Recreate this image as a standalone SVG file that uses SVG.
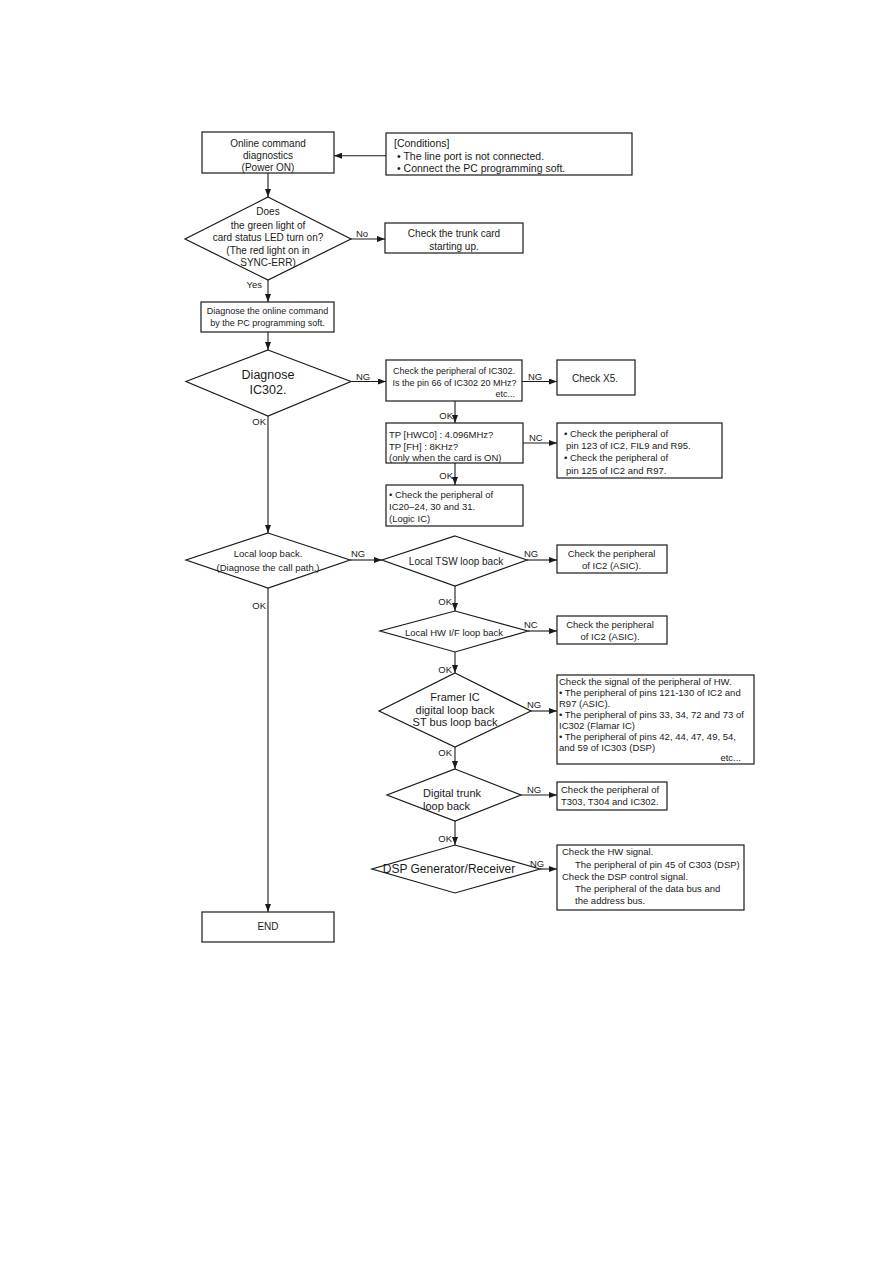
<svg xmlns="http://www.w3.org/2000/svg" width="893" height="1263" viewBox="0 0 893 1263">
<defs>
<style>
.n{fill:#fff;stroke:#1a1a1a;stroke-width:1.2}
.c{fill:none;stroke:#1a1a1a;stroke-width:1.1}
text{font-family:"Liberation Sans",Arial,sans-serif;fill:#1a1a1a;dominant-baseline:central}
.m{text-anchor:middle}
.e{text-anchor:end}
.f9{font-size:9px}
.f95{font-size:9.5px}
.f10{font-size:10px}
.f105{font-size:10.5px}
.f11{font-size:11px}
.f12{font-size:12px}
.f125{font-size:12.5px}
</style>
<marker id="ah" viewBox="0 0 8 6" refX="8" refY="3" markerWidth="8" markerHeight="6" orient="auto" markerUnits="userSpaceOnUse"><path d="M0,0 L8,3 L0,6 z" fill="#1a1a1a"/></marker>
</defs>
<rect width="893" height="1263" fill="#fff"/>

<g id="connectors">
<path class="c" d="M386,155.7 H334" marker-end="url(#ah)"/>
<path class="c" d="M268,173 V197" marker-end="url(#ah)"/>
<path class="c" d="M351,239 H385" marker-end="url(#ah)"/>
<path class="c" d="M268,280 V302" marker-end="url(#ah)"/>
<path class="c" d="M268,332 V350" marker-end="url(#ah)"/>
<path class="c" d="M351,381.5 H386" marker-end="url(#ah)"/>
<path class="c" d="M522,381.5 H557" marker-end="url(#ah)"/>
<path class="c" d="M455,401 V423" marker-end="url(#ah)"/>
<path class="c" d="M523,443 H557" marker-end="url(#ah)"/>
<path class="c" d="M455,463 V485" marker-end="url(#ah)"/>
<path class="c" d="M268,416 V533" marker-end="url(#ah)"/>
<path class="c" d="M350,560 H382" marker-end="url(#ah)"/>
<path class="c" d="M527,560 H557" marker-end="url(#ah)"/>
<path class="c" d="M455,586 V611" marker-end="url(#ah)"/>
<path class="c" d="M528,631 H557" marker-end="url(#ah)"/>
<path class="c" d="M455,652 V673" marker-end="url(#ah)"/>
<path class="c" d="M531,711 H557" marker-end="url(#ah)"/>
<path class="c" d="M455,747 V769" marker-end="url(#ah)"/>
<path class="c" d="M521,795 H557" marker-end="url(#ah)"/>
<path class="c" d="M455,821 V845" marker-end="url(#ah)"/>
<path class="c" d="M540,869 H557" marker-end="url(#ah)"/>
<path class="c" d="M268,588 V912" marker-end="url(#ah)"/>
<text class="f95" x="356" y="233">No</text>
<text class="f95 e" x="262" y="284">Yes</text>
<text class="f95" x="356" y="376.7">NG</text>
<text class="f95" x="528" y="376.7">NG</text>
<text class="f95 e" x="453" y="415">OK</text>
<text class="f95 e" x="266" y="421">OK</text>
<text class="f95" x="529" y="437">NC</text>
<text class="f95 e" x="453" y="475">OK</text>
<text class="f95" x="351" y="553.6">NG</text>
<text class="f95" x="524" y="553">NG</text>
<text class="f95 e" x="452" y="601.6">OK</text>
<text class="f95 e" x="266" y="605.6">OK</text>
<text class="f95" x="524" y="624">NC</text>
<text class="f95 e" x="452" y="669">OK</text>
<text class="f95" x="527" y="704">NG</text>
<text class="f95 e" x="452" y="752">OK</text>
<text class="f95" x="527" y="789">NG</text>
<text class="f95 e" x="452" y="838">OK</text>
<text class="f95" x="530" y="863">NG</text>
</g>

<g id="start">
<rect class="n" x="202" y="132" width="132" height="41"/>
<text class="f10 m" x="268" y="143">Online command</text>
<text class="f10 m" x="268" y="155">diagnostics</text>
<text class="f10 m" x="268" y="167.5">(Power ON)</text>
</g>

<g id="conditions">
<rect class="n" x="386" y="133" width="246" height="42"/>
<text class="f105" x="394" y="142.5">[Conditions]</text>
<text class="f105" x="397" y="155.7">• The line port is not connected.</text>
<text class="f105" x="397" y="168">• Connect the PC programming soft.</text>
</g>

<g id="led-check">
<polygon class="n" points="268,197 351,239 268,280 185,239"/>
<text class="f10 m" x="268" y="211.7">Does</text>
<text class="f10 m" x="268" y="225">the green light of</text>
<text class="f10 m" x="268" y="237.5">card status LED turn on?</text>
<text class="f10 m" x="268" y="250">(The red light on in</text>
<text class="f10 m" x="268" y="262">SYNC-ERR)</text>
</g>

<g id="trunk-card">
<rect class="n" x="385" y="223" width="138" height="30"/>
<text class="f10 m" x="454" y="233.5">Check the trunk card</text>
<text class="f10 m" x="454" y="246.5">starting up.</text>
</g>

<g id="diagnose-online">
<rect class="n" x="201" y="302" width="133" height="30"/>
<text class="f9 m" x="267.5" y="310.7">Diagnose the online command</text>
<text class="f9 m" x="267.5" y="322.7">by the PC programming soft.</text>
</g>

<g id="diagnose-ic302">
<polygon class="n" points="268,350 351,381.5 268,416 186,381.5"/>
<text class="f125 m" x="268" y="375">Diagnose</text>
<text class="f125 m" x="268" y="390">IC302.</text>
</g>

<g id="check-ic302">
<rect class="n" x="386" y="360" width="136" height="41"/>
<text class="f9" x="393" y="371">Check the peripheral of IC302.</text>
<text class="f9" x="392.5" y="383.3">Is the pin 66 of IC302 20 MHz?</text>
<text class="f9 e" x="515" y="393.5">etc...</text>
</g>

<g id="check-x5">
<rect class="n" x="557" y="360" width="78" height="35"/>
<text class="f10 m" x="595" y="378">Check X5.</text>
</g>

<g id="tp-check">
<rect class="n" x="386" y="423" width="137" height="40"/>
<text class="f95" x="389" y="434">TP [HWC0] : 4.096MHz?</text>
<text class="f95" x="389" y="446">TP [FH] : 8KHz?</text>
<text class="f95" x="389" y="457.5">(only when the card is ON)</text>
</g>

<g id="check-pin123">
<rect class="n" x="557" y="423" width="165" height="55"/>
<text class="f95" x="564" y="433">• Check the peripheral of</text>
<text class="f95" x="566" y="445.3">pin 123 of IC2, FIL9 and R95.</text>
<text class="f95" x="564" y="457.3">• Check the peripheral of</text>
<text class="f95" x="566" y="470">pin 125 of IC2 and R97.</text>
</g>

<g id="check-logic">
<rect class="n" x="386" y="485" width="137" height="41"/>
<text class="f95" x="389" y="494">• Check the peripheral of</text>
<text class="f95" x="389" y="506.7">IC20–24, 30 and 31.</text>
<text class="f95" x="389" y="518.3">(Logic IC)</text>
</g>

<g id="local-loop">
<polygon class="n" points="268,533 350,560 268,588 186,560"/>
<text class="f95 m" x="268" y="553.6">Local loop back.</text>
<text class="f95 m" x="268" y="567.5">(Diagnose the call path.)</text>
</g>

<g id="tsw-loop">
<polygon class="n" points="455,536 527,560 455,586 382,560"/>
<text class="f10 m" x="456" y="561">Local TSW loop back</text>
</g>

<g id="check-ic2-a">
<rect class="n" x="557" y="545" width="110" height="28"/>
<text class="f95 m" x="611.5" y="553.3">Check the peripheral</text>
<text class="f95 m" x="611.5" y="565">of IC2 (ASIC).</text>
</g>

<g id="hw-loop">
<polygon class="n" points="455,611 528,631 455,652 380,631"/>
<text class="f95 m" x="454" y="632">Local HW I/F loop back</text>
</g>

<g id="check-ic2-b">
<rect class="n" x="557" y="616" width="110" height="28"/>
<text class="f95 m" x="610" y="624.3">Check the peripheral</text>
<text class="f95 m" x="610" y="636">of IC2 (ASIC).</text>
</g>

<g id="framer-loop">
<polygon class="n" points="455,673 531,711 455,747 379,711"/>
<text class="f11 m" x="455" y="697">Framer IC</text>
<text class="f11 m" x="455" y="709.5">digital loop back</text>
<text class="f11 m" x="455" y="722">ST bus loop back</text>
</g>

<g id="check-hw-signal">
<rect class="n" x="557" y="675" width="197" height="89"/>
<text class="f95" x="559" y="681.5">Check the signal of the peripheral of HW.</text>
<text class="f95" x="559" y="692.5">• The peripheral of pins 121-130 of IC2 and</text>
<text class="f95" x="559" y="703.5">R97 (ASIC).</text>
<text class="f95" x="559" y="714.5">• The peripheral of pins 33, 34, 72 and 73 of</text>
<text class="f95" x="559" y="725.5">IC302 (Flamar IC)</text>
<text class="f95" x="559" y="736.5">• The peripheral of pins 42, 44, 47, 49, 54,</text>
<text class="f95" x="559" y="747.5">and 59 of IC303 (DSP)</text>
<text class="f95 e" x="741" y="757">etc...</text>
</g>

<g id="digital-trunk">
<polygon class="n" points="455,769 521,795 455,821 387,795"/>
<text class="f11" x="423" y="793">Digital trunk</text>
<text class="f11" x="423" y="805.5">loop back</text>
</g>

<g id="check-t303">
<rect class="n" x="557" y="782" width="110" height="28"/>
<text class="f95" x="561" y="789.5">Check the peripheral of</text>
<text class="f95" x="561" y="801">T303, T304 and IC302.</text>
</g>

<g id="dsp">
<polygon class="n" points="455,845 540,869 455,893 372,869"/>
<text class="f12 m" x="449" y="869">DSP Generator/Receiver</text>
</g>

<g id="check-dsp">
<rect class="n" x="557" y="845" width="187" height="65"/>
<text class="f95" x="562" y="851.7">Check the HW signal.</text>
<text class="f95" x="575" y="864.3">The peripheral of pin 45 of C303 (DSP)</text>
<text class="f95" x="562" y="876.7">Check the DSP control signal.</text>
<text class="f95" x="575" y="888.3">The peripheral of the data bus and</text>
<text class="f95" x="575" y="900">the address bus.</text>
</g>

<g id="end">
<rect class="n" x="202" y="912" width="132" height="30"/>
<text class="f10 m" x="268" y="926.5">END</text>
</g>
</svg>
